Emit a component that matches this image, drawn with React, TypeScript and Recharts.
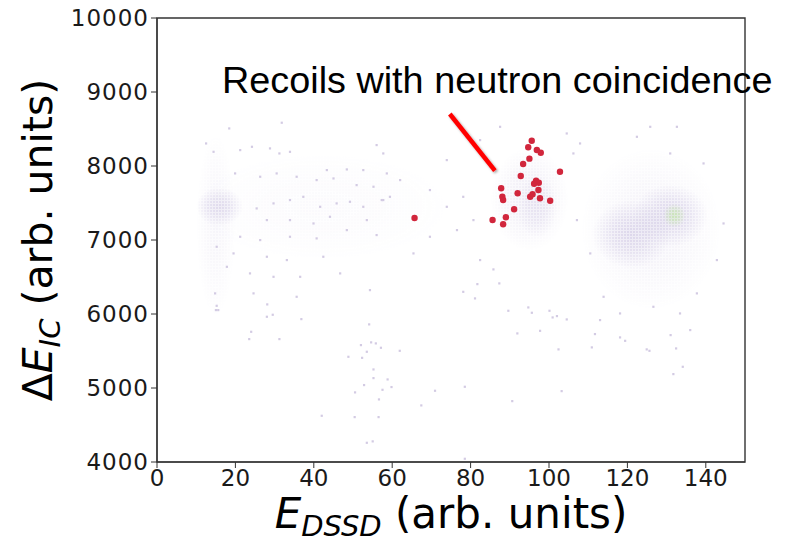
import {
  ScatterChart,
  Scatter,
  XAxis,
  YAxis,
  ReferenceArea,
  ReferenceLine,
} from "recharts";

const xTicks = [0, 20, 40, 60, 80, 100, 120, 140];
const yTicks = [4000, 5000, 6000, 7000, 8000, 9000, 10000];

// recoils in coincidence with a neutron (red markers)
const coincidenceX = [
  95.6, 94.7, 96.9, 97.9, 95.0, 93.4, 102.8, 92.8, 96.7, 97.4, 96.2, 87.8,
  97.3, 92.0, 95.8, 95.2, 88.1, 88.3, 97.7, 100.3, 91.1, 85.6, 89.0, 88.3, 65.7,
];
const coincidenceY = [
  8342, 8253, 8216, 8180, 8099, 8027, 7923, 7865, 7801, 7774, 7760, 7699,
  7676, 7631, 7618, 7585, 7585, 7541, 7564, 7531, 7415, 7270, 7307, 7212, 7297,
];

// coarse reading of the event density: centre, spread and relative level
const densityX = [42, 15, 16, 95, 97, 126, 121, 131, 132];
const densityY = [7450, 7200, 7450, 7550, 7450, 7150, 7080, 7330, 7330];
const densitySpreadX = [34, 5, 6, 10, 5, 18, 10, 9.5, 2.8];
const densitySpreadY = [750, 1250, 260, 700, 420, 1100, 460, 420, 160];
const densityLevel = [0.08, 0.16, 0.55, 0.3, 0.3, 0.22, 0.6, 0.6, 1];

// individual sparse events outside the dense regions
const sparseEvents: [number, number][] = [
  [15.2, 6112], [15.0, 6054], [28.1, 6131], [29.5, 5991], [36.8, 5932],
  [24.0, 5761], [23.5, 5662], [31.2, 5662], [54.1, 5861], [52.0, 5581],
  [54.6, 5618], [55.8, 5604], [57.1, 5545], [61.9, 5504], [48.8, 5423],
  [52.3, 5409], [53.5, 5491], [55.2, 5252], [55.2, 5135], [52.8, 5041],
  [58.8, 5117], [59.8, 5014], [57.5, 4977], [50.5, 4942], [56.6, 4847],
  [70.9, 4964], [78.5, 5018], [67.4, 4766], [42.0, 4626], [50.4, 4608],
  [56.5, 4608], [53.5, 4261], [55.0, 4280], [78.5, 4045],
  [85.8, 6604], [81.7, 6405], [87.3, 6415], [81.1, 6212], [89.6, 6045],
  [94.7, 6090], [95.6, 6018], [100.1, 6045], [100.9, 5955], [102.0, 5973],
  [104.5, 5928], [91.9, 5739], [97.7, 5774], [102.4, 5523], [110.9, 5550],
  [111.7, 5730], [113.0, 5919], [118.1, 5685], [119.4, 5639], [124.9, 5523],
  [125.6, 5504], [132.4, 5536], [134.1, 5288], [131.7, 5189], [136.0, 5784],
  [131.0, 5716], [103.2, 4959], [90.6, 4824], [78.1, 6301],
  [31.8, 8586], [18.4, 8509], [12.5, 8306], [14.4, 8193], [21.2, 8216],
  [24.2, 8261], [28.8, 8239], [31.2, 8171], [33.9, 8193], [43.3, 7946],
  [48.4, 7955], [52.6, 7946], [58.6, 7901], [57.7, 8171], [56.0, 8284],
  [19.9, 7901], [26.3, 7856], [30.5, 7901], [35.6, 7856], [40.7, 7811],
  [45.0, 7833], [50.9, 7743], [55.2, 7721], [37.3, 7585], [33.9, 7541],
  [29.7, 7496], [25.4, 7428], [41.6, 7450], [45.8, 7496], [49.2, 7518],
  [52.6, 7450], [57.3, 7541], [59.4, 7585], [28.0, 7270], [33.9, 7270],
  [39.9, 7225], [44.1, 7315], [53.5, 7270], [21.2, 7045], [26.3, 7000],
  [33.9, 7045], [40.7, 7023], [48.4, 7135], [56.0, 7068], [15.2, 6910],
  [19.5, 6820], [28.0, 6775], [33.1, 6730], [42.4, 6775], [17.8, 6639],
  [23.7, 6550], [29.7, 6504], [36.5, 6504], [46.7, 6550], [14.8, 6280],
  [24.6, 6280], [35.6, 6234], [54.3, 6324], [15.6, 6054], [28.0, 5964],
  [57.7, 7541], [62.0, 7811], [69.6, 7676], [73.9, 7450], [78.1, 7585],
  [76.5, 7135], [69.6, 7045], [80.7, 7270], [65.4, 6820], [82.4, 6730],
  [73.9, 8081], [82.4, 8351], [87.5, 8531], [104.5, 8441], [106.2, 8171],
  [107.9, 8306], [122.4, 8396], [125.8, 8531], [132.6, 8531], [130.9, 8171],
  [139.4, 8036], [144.5, 7225], [142.8, 6730], [137.7, 6280], [110.5, 6820],
  [107.1, 7270], [113.9, 6234], [126.6, 6099], [118.1, 6009], [133.4, 6009],
];

// annotation pointer (data coordinates)
const pointerStart = { x: 74.7, y: 8703 };
const pointerEnd = { x: 86.2, y: 7937 };

const coincidenceData = coincidenceX.map((x, i) => ({ x, y: coincidenceY[i] }));
const sparseData = sparseEvents.map(([x, y]) => ({ x, y }));
const densityData = densityX.map((x, i) => ({
  x,
  y: densityY[i],
  sx: densitySpreadX[i],
  sy: densitySpreadY[i],
  level: densityLevel[i],
}));

const tickStyle = { fontFamily: "DejaVu Sans", fontSize: 23, fill: "#1a1a1a" };
const labelFont = "DejaVu Sans";

// each density blob is an ellipse filled with a fine dot grid, faded out
// towards its edge by a radial mask, so it reads like a dense scatter
function blobShape(id: string, level: number) {
  const hot = level >= 0.9;
  const color = hot ? "#c9e6b4" : "#d4cde6";
  const peak = hot ? 0.95 : Math.min(1, level * 1.25);
  return (props: { x?: number; y?: number; width?: number; height?: number }) => {
    const { x = 0, y = 0, width = 0, height = 0 } = props;
    const cx = x + width / 2;
    const cy = y + height / 2;
    const rx = Math.abs(width) / 2;
    const ry = Math.abs(height) / 2;
    return (
      <g>
        <defs>
          <radialGradient id={`${id}-fade`}>
            <stop offset="0%" stopColor="#fff" stopOpacity={peak} />
            <stop offset="45%" stopColor="#fff" stopOpacity={peak * 0.7} />
            <stop offset="100%" stopColor="#fff" stopOpacity={0} />
          </radialGradient>
          <mask id={`${id}-mask`}>
            <ellipse cx={cx} cy={cy} rx={rx} ry={ry} fill={`url(#${id}-fade)`} />
          </mask>
          <pattern id={`${id}-dots`} width={3} height={3} patternUnits="userSpaceOnUse">
            <rect width={3} height={3} fill={color} fillOpacity={0.45} />
            <rect width={2} height={2} fill={color} />
          </pattern>
        </defs>
        <ellipse
          cx={cx}
          cy={cy}
          rx={rx}
          ry={ry}
          fill={`url(#${id}-dots)`}
          mask={`url(#${id}-mask)`}
        />
      </g>
    );
  };
}

export default function App() {
  return (
    <div style={{ position: "absolute", left: 0, top: 0, width: 788, height: 542, background: "#fff" }}>
      <ScatterChart
        width={788}
        height={542}
        margin={{ top: 18, right: 43, bottom: 0, left: 0 }}
      >
        <defs>
          <filter id="pointerShadow" x="-20%" y="-20%" width="140%" height="140%">
            <feDropShadow dx="1.5" dy="1.5" stdDeviation="1" floodColor="#000" floodOpacity="0.35" />
          </filter>
        </defs>
        <XAxis
          type="number"
          dataKey="x"
          domain={[0, 150]}
          ticks={xTicks}
          allowDataOverflow
          height={80}
          tickSize={6}
          tickMargin={2}
          tick={tickStyle}
          tickLine={{ stroke: "#333" }}
          axisLine={{ stroke: "#333", strokeWidth: 1.2 }}
        />
        <YAxis
          type="number"
          dataKey="y"
          domain={[4000, 10000]}
          ticks={yTicks}
          allowDataOverflow
          width={157}
          tickSize={6}
          tickMargin={2}
          tick={{ ...tickStyle, letterSpacing: 1 }}
          tickLine={{ stroke: "#333" }}
          axisLine={{ stroke: "#333", strokeWidth: 1.2 }}
        />
        {densityData.map((d, i) => (
          <ReferenceArea
            key={`density-${i}`}
            x1={d.x - d.sx}
            x2={d.x + d.sx}
            y1={d.y - d.sy}
            y2={d.y + d.sy}
            ifOverflow="hidden"
            shape={blobShape(`density-grad-${i}`, d.level)}
          />
        ))}
        <Scatter
          data={sparseData}
          isAnimationActive={false}
          shape={(p: { cx?: number; cy?: number }) => (
            <rect x={(p.cx ?? 0) - 1} y={(p.cy ?? 0) - 1} width={2.2} height={2.2} fill="#d3cbe3" />
          )}
        />
        <ReferenceLine
          segment={[pointerStart, pointerEnd]}
          stroke="#ff0000"
          strokeWidth={4.5}
          filter="url(#pointerShadow)"
        />
        <Scatter
          data={coincidenceData}
          isAnimationActive={false}
          shape={(p: { cx?: number; cy?: number }) => (
            <circle cx={p.cx} cy={p.cy} r={3.2} fill="#d1263c" />
          )}
        />
        <ReferenceArea
          x1={0}
          x2={150}
          y1={4000}
          y2={10000}
          fill="none"
          stroke="#333"
          strokeWidth={1.4}
          fillOpacity={0}
        />
      </ScatterChart>
      <svg
        width={788}
        height={542}
        style={{ position: "absolute", left: 0, top: 0, pointerEvents: "none" }}
      >
        <text x={222} y={93} fontFamily="Liberation Sans, Arial" fontSize={37.8} fill="#000">
          Recoils with neutron coincidence
        </text>
        <text
          x={451}
          y={528}
          textAnchor="middle"
          fontFamily={labelFont}
          fontSize={42}
          fill="#000"
        >
          <tspan fontStyle="italic">E</tspan>
          <tspan fontStyle="italic" fontSize={29} dy={8}>DSSD</tspan>
          <tspan dy={-8}> (arb. units)</tspan>
        </text>
        <text
          transform="translate(52 240) rotate(-90)"
          textAnchor="middle"
          fontFamily={labelFont}
          fontSize={41}
          fill="#000"
        >
          <tspan>Δ</tspan>
          <tspan fontStyle="italic">E</tspan>
          <tspan fontStyle="italic" fontSize={29} dy={8}>IC</tspan>
          <tspan dy={-8}> (arb. units)</tspan>
        </text>
      </svg>
    </div>
  );
}
